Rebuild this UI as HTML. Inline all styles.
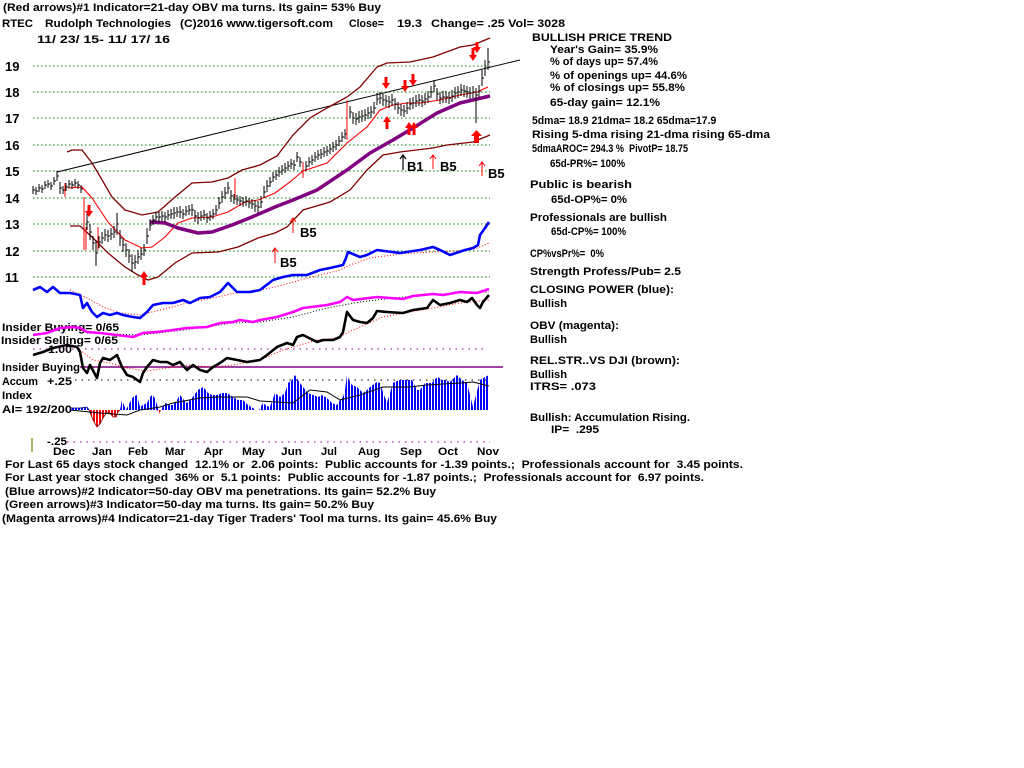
<!DOCTYPE html>
<html><head><meta charset="utf-8"><style>
html,body{margin:0;padding:0;background:#fff;}
svg{display:block;}
text{font-family:"Liberation Sans",Arial,sans-serif;font-weight:bold;font-size:11px;fill:#000;}
.yl{font-size:13px;}
</style></head><body>
<svg width="1024" height="768" viewBox="0 0 1024 768" xmlns="http://www.w3.org/2000/svg">
<defs>
<pattern id="pb" width="3" height="4" patternUnits="userSpaceOnUse"><rect x="0" y="0" width="2" height="4" fill="#0000ff"/></pattern>
<pattern id="pr" width="3" height="4" patternUnits="userSpaceOnUse"><rect x="0" y="0" width="2" height="4" fill="#ff0000"/></pattern>
</defs>
<rect width="1024" height="768" fill="#fff"/>

<!-- header texts -->
<text x="3" y="11" textLength="378" lengthAdjust="spacingAndGlyphs">(Red arrows)#1 Indicator=21-day OBV ma turns. Its gain= 53% Buy</text>
<text x="2" y="27" textLength="31" lengthAdjust="spacingAndGlyphs">RTEC</text>
<text x="45" y="27" textLength="126" lengthAdjust="spacingAndGlyphs">Rudolph Technologies</text>
<text x="180" y="27" textLength="153" lengthAdjust="spacingAndGlyphs">(C)2016 www.tigersoft.com</text>
<text transform="translate(349,27) scale(0.96,1)">Close=</text>
<text x="397" y="27" textLength="25" lengthAdjust="spacingAndGlyphs">19.3</text>
<text x="431" y="27" textLength="134" lengthAdjust="spacingAndGlyphs">Change= .25 Vol= 3028</text>
<text x="37" y="43" textLength="133" lengthAdjust="spacingAndGlyphs">11/ 23/ 15- 11/ 17/ 16</text>

<!-- y labels -->
<text class="yl" x="5" y="71">19</text>
<text class="yl" x="5" y="97">18</text>
<text class="yl" x="5" y="123">17</text>
<text class="yl" x="5" y="150">16</text>
<text class="yl" x="5" y="176">15</text>
<text class="yl" x="5" y="203">14</text>
<text class="yl" x="5" y="229">13</text>
<text class="yl" x="5" y="256">12</text>
<text class="yl" x="5" y="282">11</text>

<!-- grid -->
<g stroke="#008000" stroke-width="1" stroke-dasharray="1.5,2.5">
<line x1="33" y1="66" x2="490" y2="66"/>
<line x1="33" y1="92" x2="490" y2="92"/>
<line x1="33" y1="118" x2="490" y2="118"/>
<line x1="33" y1="145" x2="490" y2="145"/>
<line x1="33" y1="171" x2="490" y2="171"/>
<line x1="33" y1="198" x2="490" y2="198"/>
<line x1="33" y1="224" x2="490" y2="224"/>
<line x1="33" y1="251" x2="490" y2="251"/>
<line x1="33" y1="277" x2="490" y2="277"/>
</g>

<!-- left lower labels -->
<text x="2" y="331" textLength="117" lengthAdjust="spacingAndGlyphs">Insider Buying= 0/65</text>
<text x="1" y="344" textLength="117" lengthAdjust="spacingAndGlyphs">Insider Selling= 0/65</text>
<text x="48" y="353" textLength="24" lengthAdjust="spacingAndGlyphs">1.00</text>
<text x="2" y="371" textLength="78" lengthAdjust="spacingAndGlyphs">Insider Buying</text>
<text x="2" y="385" textLength="36" lengthAdjust="spacingAndGlyphs">Accum</text>
<text x="47" y="385" textLength="25" lengthAdjust="spacingAndGlyphs">+.25</text>
<text x="2" y="399" textLength="30" lengthAdjust="spacingAndGlyphs">Index</text>
<text x="2" y="413" textLength="70" lengthAdjust="spacingAndGlyphs">AI= 192/200</text>
<text x="47" y="445" textLength="20" lengthAdjust="spacingAndGlyphs">-.25</text>
<line x1="32" y1="438" x2="32" y2="452" stroke="#808000" stroke-width="1.2"/>

<!-- months -->
<text x="53" y="455" textLength="22" lengthAdjust="spacingAndGlyphs">Dec</text>
<text x="92" y="455" textLength="20" lengthAdjust="spacingAndGlyphs">Jan</text>
<text x="128" y="455" textLength="20" lengthAdjust="spacingAndGlyphs">Feb</text>
<text x="165" y="455" textLength="20" lengthAdjust="spacingAndGlyphs">Mar</text>
<text x="204" y="455" textLength="19" lengthAdjust="spacingAndGlyphs">Apr</text>
<text x="242" y="455" textLength="23" lengthAdjust="spacingAndGlyphs">May</text>
<text x="281" y="455" textLength="21" lengthAdjust="spacingAndGlyphs">Jun</text>
<text x="321" y="455" textLength="16" lengthAdjust="spacingAndGlyphs">Jul</text>
<text x="358" y="455" textLength="22" lengthAdjust="spacingAndGlyphs">Aug</text>
<text x="400" y="455" textLength="22" lengthAdjust="spacingAndGlyphs">Sep</text>
<text x="438" y="455" textLength="20" lengthAdjust="spacingAndGlyphs">Oct</text>
<text x="477" y="455" textLength="22" lengthAdjust="spacingAndGlyphs">Nov</text>

<!-- bottom lines -->
<text xml:space="preserve" x="5" y="468" textLength="738" lengthAdjust="spacingAndGlyphs">For Last 65 days stock changed  12.1% or  2.06 points:  Public accounts for -1.39 points.;  Professionals account for  3.45 points.</text>
<text xml:space="preserve" x="5" y="481" textLength="699" lengthAdjust="spacingAndGlyphs">For Last year stock changed  36% or  5.1 points:  Public accounts for -1.87 points.;  Professionals account for  6.97 points.</text>
<text x="5" y="495" textLength="431" lengthAdjust="spacingAndGlyphs">(Blue arrows)#2 Indicator=50-day OBV ma penetrations. Its gain= 52.2% Buy</text>
<text x="5" y="508" textLength="369" lengthAdjust="spacingAndGlyphs">(Green arrows)#3 Indicator=50-day ma turns. Its gain= 50.2% Buy</text>
<text x="2" y="522" textLength="495" lengthAdjust="spacingAndGlyphs">(Magenta arrows)#4 Indicator=21-day Tiger Traders' Tool ma turns. Its gain= 45.6% Buy</text>

<!-- right panel -->
<text x="532" y="41" textLength="140" lengthAdjust="spacingAndGlyphs">BULLISH PRICE TREND</text>
<text x="550" y="53" textLength="108" lengthAdjust="spacingAndGlyphs">Year's Gain= 35.9%</text>
<text x="550" y="65" textLength="108" lengthAdjust="spacingAndGlyphs">% of days up= 57.4%</text>
<text x="550" y="79" textLength="137" lengthAdjust="spacingAndGlyphs">% of openings up= 44.6%</text>
<text x="550" y="91" textLength="135" lengthAdjust="spacingAndGlyphs">% of closings up= 55.8%</text>
<text x="550" y="106" textLength="110" lengthAdjust="spacingAndGlyphs">65-day gain= 12.1%</text>
<text transform="translate(532,124) scale(0.95,1)">5dma= 18.9 21dma= 18.2 65dma=17.9</text>
<text x="532" y="138" textLength="238" lengthAdjust="spacingAndGlyphs">Rising 5-dma rising 21-dma rising 65-dma</text>
<text xml:space="preserve" transform="translate(532,152) scale(0.83,1)">5dmaAROC= 294.3 %  PivotP= 18.75</text>
<text transform="translate(550,167) scale(0.88,1)">65d-PR%= 100%</text>
<text x="530" y="188" textLength="102" lengthAdjust="spacingAndGlyphs">Public is bearish</text>
<text x="551" y="203" textLength="76" lengthAdjust="spacingAndGlyphs">65d-OP%= 0%</text>
<text x="530" y="221" textLength="137" lengthAdjust="spacingAndGlyphs">Professionals are bullish</text>
<text transform="translate(551,235) scale(0.88,1)">65d-CP%= 100%</text>
<text xml:space="preserve" transform="translate(530,257) scale(0.85,1)">CP%vsPr%=  0%</text>
<text x="530" y="275" textLength="151" lengthAdjust="spacingAndGlyphs">Strength Profess/Pub= 2.5</text>
<text x="530" y="293" textLength="144" lengthAdjust="spacingAndGlyphs">CLOSING POWER (blue):</text>
<text x="530" y="307" textLength="37" lengthAdjust="spacingAndGlyphs">Bullish</text>
<text x="530" y="329" textLength="89" lengthAdjust="spacingAndGlyphs">OBV (magenta):</text>
<text x="530" y="343" textLength="37" lengthAdjust="spacingAndGlyphs">Bullish</text>
<text x="530" y="364" textLength="150" lengthAdjust="spacingAndGlyphs">REL.STR..VS DJI (brown):</text>
<text x="530" y="378" textLength="37" lengthAdjust="spacingAndGlyphs">Bullish</text>
<text x="530" y="390" textLength="66" lengthAdjust="spacingAndGlyphs">ITRS= .073</text>
<text x="530" y="421" textLength="160" lengthAdjust="spacingAndGlyphs">Bullish: Accumulation Rising.</text>
<text xml:space="preserve" x="551" y="433" textLength="48" lengthAdjust="spacingAndGlyphs">IP=  .295</text>

<!-- trend line -->
<line x1="57" y1="172" x2="520" y2="60" stroke="#000" stroke-width="1"/>

<!-- bands -->
<polyline fill="none" stroke="#800000" stroke-width="1.3" points="67,152 72,150 82,150 92,163 98,173 112,197 125,210 142,215 158,212 175,197 192,183 212,182 228,178 242,170 260,165 277,156 293,135 310,118 327,108 347,97 360,87 377,67 387,63 410,62 433,57 460,47 473,45 490,38"/>
<polyline fill="none" stroke="#800000" stroke-width="1.3" points="70,226 80,226 92,237 108,253 125,267 138,275 148,280 158,277 175,263 192,253 218,252 238,247 258,238 275,233 287,227 303,210 330,202 350,190 367,170 383,155 400,152 433,148 447,145 473,142 490,135"/>
<polyline fill="none" stroke="#ff0000" stroke-width="1.1" points="68,188 82,187 92,198 108,222 125,240 142,248 152,247 165,237 178,223 192,218 212,217 228,212 245,202 258,200 275,193 290,182 303,171 327,163 347,143 367,127 380,110 393,105 407,103 420,103 440,100 460,95 477,92 488,87"/>
<polyline fill="none" stroke="#800080" stroke-width="3.5" stroke-linejoin="round" points="150,222 165,223 178,228 198,233 212,232 232,225 252,217 275,207 293,200 317,190 347,170 370,153 393,140 413,128 437,113 460,103 477,99 490,96"/>

<!-- price bars -->
<path fill="none" stroke="#000" stroke-width="1" shape-rendering="crispEdges" d="M33,186v8m0-4h2M36,187v8m0-4h2M39,184v8m0-4h2M42,185v8m0-4h2M45,181v8m0-4h2M48,180v8m0-4h2M51,182v8m0-4h2M54,177v8m0-4h2M57,171v10m0-5h2M60,182v12m0-6h2M63,186v8m0-4h2M66,183v8m0-4h2M69,180v8m0-4h2M72,181v8m0-4h2M75,179v8m0-4h2M78,181v8m0-4h2M81,185v8m0-4h2M87,214v16m0-8h2M90,224v16m0-8h2M93,236v14m0-7h2M96,240v26m0-13h2M99,236v12m0-6h2M102,232v12m0-6h2M105,229v12m0-6h2M108,230v12m0-6h2M111,228v12m0-6h2M114,226v12m0-6h2M117,213v22m0-11h2M120,230v16m0-8h2M123,238v14m0-7h2M126,243v14m0-7h2M129,249v14m0-7h2M132,254v18m0-9h2M135,255v14m0-7h2M138,250v14m0-7h2M141,248v12m0-6h2M144,244v12m0-6h2M147,228v16m0-8h2M150,219v12m0-6h2M153,215v10m0-5h2M156,212v10m0-5h2M159,212v10m0-5h2M162,211v10m0-5h2M165,212v10m0-5h2M168,210v10m0-5h2M171,209v10m0-5h2M174,207v12m0-6h2M177,207v10m0-5h2M180,206v12m0-6h2M183,209v10m0-5h2M186,206v10m0-5h2M189,205v10m0-5h2M192,204v12m0-6h2M195,210v12m0-6h2M198,212v12m0-6h2M201,211v10m0-5h2M204,210v10m0-5h2M207,213v10m0-5h2M210,211v10m0-5h2M213,209v10m0-5h2M216,205v10m0-5h2M219,197v12m0-6h2M222,191v12m0-6h2M225,187v12m0-6h2M228,182v12m0-6h2M231,190v12m0-6h2M234,194v10m0-5h2M237,195v10m0-5h2M240,196v10m0-5h2M243,197v10m0-5h2M246,196v10m0-5h2M249,198v10m0-5h2M252,199v10m0-5h2M255,200v12m0-6h2M258,201v12m0-6h2M261,196v12m0-6h2M264,186v12m0-6h2M267,180v12m0-6h2M270,177v10m0-5h2M273,172v10m0-5h2M276,170v10m0-5h2M279,167v10m0-5h2M282,165v10m0-5h2M285,163v10m0-5h2M288,161v10m0-5h2M291,159v10m0-5h2M294,160v10m0-5h2M297,152v10m0-5h2M300,157v10m0-5h2M306,161v10m0-5h2M309,157v10m0-5h2M312,155v10m0-5h2M315,152v10m0-5h2M318,150v10m0-5h2M321,149v10m0-5h2M324,147v10m0-5h2M327,146v10m0-5h2M330,144v10m0-5h2M333,142v10m0-5h2M336,140v10m0-5h2M339,136v10m0-5h2M342,132v10m0-5h2M345,129v10m0-5h2M350,106v12m0-6h2M353,112v12m0-6h2M356,113v12m0-6h2M359,111v12m0-6h2M362,110v12m0-6h2M365,109v12m0-6h2M368,107v12m0-6h2M371,106v12m0-6h2M374,102v12m0-6h2M377,93v12m0-6h2M380,92v12m0-6h2M383,94v12m0-6h2M386,95v12m0-6h2M389,96v12m0-6h2M392,94v12m0-6h2M395,98v12m0-6h2M398,102v12m0-6h2M401,104v12m0-6h2M404,105v12m0-6h2M407,102v12m0-6h2M410,98v12m0-6h2M413,97v12m0-6h2M416,95v12m0-6h2M419,94v12m0-6h2M422,95v12m0-6h2M425,93v12m0-6h2M428,91v12m0-6h2M431,86v12m0-6h2M434,80v12m0-6h2M437,88v12m0-6h2M440,92v12m0-6h2M443,91v12m0-6h2M446,91v12m0-6h2M449,92v12m0-6h2M452,90v12m0-6h2M455,87v12m0-6h2M458,86v12m0-6h2M461,84v12m0-6h2M464,85v12m0-6h2M467,86v12m0-6h2M470,87v12m0-6h2M473,86v12m0-6h2M476,88v35m0-28h2M479,85v12m0-6h2M482,70v16m0-8h2M485,60v16m0-8h2M488,48v22m0-8h2"/>
<path fill="none" stroke="#ff0000" stroke-width="1" shape-rendering="crispEdges" d="M65,183v14M84,197v53M86,227v23M98,227v23M235,178v20M303,162v16M347,100v40"/>

<!-- thick red arrows down -->
<g fill="#ff0000">
<path d="M87.5,205h3v6h2.5l-4,6l-4,-6h2.5z"/>
<path d="M384.5,77h3v6h2.5l-4,6l-4,-6h2.5z"/>
<path d="M403.5,80h3v6h2.5l-4,6l-4,-6h2.5z"/>
<path d="M411.5,74h3v6h2.5l-4,6l-4,-6h2.5z"/>
<path d="M471.5,48h3v7h2.5l-4,6l-4,-6h2.5z"/>
<path d="M475.5,42h3v5h2.5l-4,6l-4,-6h2.5z"/>
<!-- up -->
<path d="M142.5,285v-8h-2.5l4,-6l4,6h-2.5v8z"/>
<path d="M385.5,129v-7h-2.5l4,-6l4,6h-2.5v7z"/>
<path d="M407.5,135v-7h-2.5l4,-6l4,6h-2.5v7z"/>
<path d="M412.5,135v-7h-2.5l4,-6l4,6h-2.5v7z"/>
<path d="M474,143v-7h-3l5.5,-6l5.5,6h-3v7z"/>
</g>
<!-- thin arrows -->
<path fill="none" stroke="#ff0000" stroke-width="1" d="M293,233V218M290,222L293,218L296,222M275,263V248M272,252L275,248L278,252M433,169V155M430,159L433,155L436,159M482,176V162M479,166L482,162L485,166"/>
<path fill="none" stroke="#000" stroke-width="1.2" d="M403,170V155M400,159L403,155L406,159"/>
<text class="yl" x="300" y="237">B5</text>
<text class="yl" x="280" y="267">B5</text>
<text class="yl" x="407" y="171">B1</text>
<text class="yl" x="440" y="171">B5</text>
<text class="yl" x="488" y="178">B5</text>

<!-- closing power blue -->
<polyline fill="none" stroke="#ff0000" stroke-width="1" stroke-dasharray="1,2" points="70,290 87,298 103,307 120,313 140,315 160,310 187,303 217,297 240,292 260,290 283,285 300,280 320,275 340,270 350,265 370,258 400,254 430,252 460,251 475,249 489,243"/>
<polyline fill="none" stroke="#0000ff" stroke-width="2.6" stroke-linejoin="round" points="33,290 40,287 47,292 53,287 60,293 70,293 80,295 83,308 87,303 92,312 97,317 103,313 110,315 117,313 123,315 133,317 140,318 147,312 153,305 163,303 173,303 183,300 190,303 200,298 210,297 220,292 228,283 237,292 250,292 260,290 273,280 283,277 293,275 307,275 320,270 330,268 343,265 346,258 348,252 360,257 367,255 377,250 400,253 420,250 433,247 440,250 450,255 465,250 473,248 478,245 480,235 485,228 489,222"/>

<!-- OBV magenta -->
<polyline fill="none" stroke="#000" stroke-width="1" stroke-dasharray="1,2" points="87,333 140,335 167,332 200,328 233,323 260,322 293,317 327,308 360,302 393,298 427,295 460,293 489,292"/>
<polyline fill="none" stroke="#ff00ff" stroke-width="2.6" stroke-linejoin="round" points="33,335 47,333 60,328 73,327 80,328 87,332 100,333 117,335 133,337 143,333 157,332 173,330 187,328 207,327 220,323 233,322 240,320 253,322 260,320 277,317 293,312 303,308 327,305 340,302 347,297 353,300 377,297 403,299 413,296 433,294 443,295 460,292 477,293 489,289"/>

<!-- level lines -->
<line x1="33" y1="349" x2="488" y2="349" stroke="#800080" stroke-width="1" stroke-dasharray="1.5,5"/>
<line x1="80" y1="367" x2="503" y2="367" stroke="#800080" stroke-width="1.5"/>
<line x1="75" y1="380" x2="490" y2="380" stroke="#000" stroke-width="1" stroke-dasharray="1.5,5"/>
<line x1="67" y1="442" x2="490" y2="442" stroke="#800080" stroke-width="1" stroke-dasharray="1.5,5"/>

<!-- RS black -->
<polyline fill="none" stroke="#ff0000" stroke-width="1" stroke-dasharray="1,2" points="80,350 93,360 110,363 127,368 147,371 167,368 187,365 213,367 233,365 260,360 283,350 317,340 337,338 353,330 383,317 410,312 433,308 460,303 489,300"/>
<polyline fill="none" stroke="#000" stroke-width="2.6" stroke-linejoin="round" points="33,355 43,352 53,348 67,345 77,347 80,352 83,368 87,373 90,365 97,378 100,363 103,358 110,360 117,355 122,367 127,375 133,377 140,382 143,373 147,367 153,360 160,362 167,362 173,365 180,362 187,370 193,365 200,370 207,372 213,367 220,363 227,358 237,360 247,362 260,360 267,355 277,347 287,343 293,345 297,337 303,335 317,342 323,340 333,340 340,337 343,332 347,312 353,320 360,322 367,323 373,318 377,311 387,312 403,313 413,310 427,308 433,300 440,305 450,303 460,300 467,302 472,298 477,305 480,308 483,302 489,295"/>

<!-- accumulation histogram -->
<path fill="url(#pb)" d="M70,410 L70,408 80,408 87,407 89,410 L120,410 121,405 122,400 124,405 126,410 129,404 133,397 137,395 140,407 143,405 147,403 150,397 152,395 155,398 158,408 159,410 161,410 162,408 165,403 170,405 173,405 177,400 180,395 184,400 187,403 192,398 195,394 198,390 203,387 206,390 208,393 212,395 217,395 222,393 227,393 230,395 233,397 238,400 243,400 248,405 253,408 255,410 259,410 260,408 263,403 267,406 270,407 275,393 280,397 285,393 288,383 292,380 295,375 298,380 300,383 303,387 308,393 313,395 318,397 322,395 327,398 332,403 337,405 340,400 343,397 345,390 347,375 350,382 352,385 357,387 363,393 367,390 370,387 374,384 377,382 380,383 384,395 387,403 390,393 393,383 397,381 400,380 407,380 412,380 415,386 417,390 420,390 425,383 432,383 435,379 438,377 442,380 445,380 450,382 454,378 457,375 462,380 467,383 470,395 473,407 476,395 480,380 485,377 489,375 489,410 Z"/>
<polyline fill="none" stroke="#000080" stroke-width="0.8" points="70,408 80,408 87,407 89,410 M120,410 121,405 122,400 124,405 126,410 129,404 133,397 137,395 140,407 143,405 147,403 150,397 152,395 155,398 158,408 159,410 161,410 162,408 165,403 170,405 173,405 177,400 180,395 184,400 187,403 192,398 195,394 198,390 203,387 206,390 208,393 212,395 217,395 222,393 227,393 230,395 233,397 238,400 243,400 248,405 253,408 255,410 259,410 260,408 263,403 267,406 270,407 275,393 280,397 285,393 288,383 292,380 295,375 298,380 300,383 303,387 308,393 313,395 318,397 322,395 327,398 332,403 337,405 340,400 343,397 345,390 347,375 350,382 352,385 357,387 363,393 367,390 370,387 374,384 377,382 380,383 384,395 387,403 390,393 393,383 397,381 400,380 407,380 412,380 415,386 417,390 420,390 425,383 432,383 435,379 438,377 442,380 445,380 450,382 454,378 457,375 462,380 467,383 470,395 473,407 476,395 480,380 485,377 489,375"/>
<path fill="url(#pr)" d="M89,410 L93,420 97,427 100,424 103,418 107,412 110,413 113,417 116,417 118,412 120,410 Z M157,410 L159,414 161,410 Z"/>
<polyline fill="none" stroke="#800000" stroke-width="0.8" points="89,410 93,420 97,427 100,424 103,418 107,412 110,413 113,417 116,417 118,412 120,410"/>
<polyline fill="none" stroke="#000" stroke-width="1" points="70,410 100,413 127,415 140,410 160,407 173,403 200,398 217,397 247,397 260,401 293,403 310,390 327,392 340,400 360,395 383,387 410,387 427,385 460,383 473,382 489,386"/>
</svg>
</body></html>
